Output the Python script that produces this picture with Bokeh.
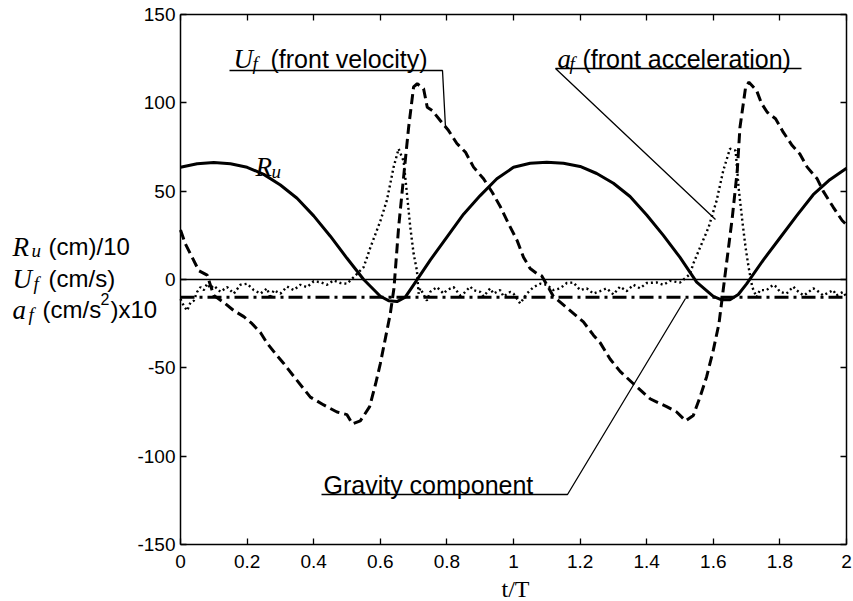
from bokeh.plotting import figure
from bokeh.models import Label, LinearAxis, FixedTicker, CustomJSTickFormatter, Range1d
from bokeh.embed import file_html
from bokeh.resources import INLINE

# ---------------- data ----------------
x_ticks = [0, 0.2, 0.4, 0.6, 0.8, 1, 1.2, 1.4, 1.6, 1.8, 2]
y_ticks = [-150, -100, -50, 0, 50, 100, 150]

# R_u (run-up /10), solid
ru_t = [0.00, 0.05, 0.10, 0.15, 0.20, 0.25, 0.30, 0.35, 0.40, 0.45, 0.50, 0.55, 0.60,
        0.625, 0.65, 0.675, 0.70, 0.75, 0.80, 0.85, 0.90, 0.95,
        1.00, 1.05, 1.10, 1.15, 1.20, 1.25, 1.30, 1.35, 1.40, 1.45, 1.50, 1.55, 1.60,
        1.625, 1.65, 1.675, 1.70, 1.75, 1.80, 1.85, 1.90, 1.95, 2.00]
ru_v = [63.5, 65.5, 66.2, 65.5, 63.5, 59.5, 53.5, 46, 36, 24.5, 12, 0, -9.5,
        -12, -12.5, -10, -3, 11, 24, 37, 47.5, 57,
        63.5, 65.8, 66.3, 65.8, 64, 60, 54.5, 47, 36.5, 25, 12.5, -1.5, -9.5,
        -11.5, -11.5, -8.5, -2.5, 11, 23.5, 36, 48, 56.5, 63]

# U_f (front velocity), dashed
uf_t = [0, 0.015, 0.035, 0.055, 0.08, 0.1, 0.13, 0.16, 0.19, 0.215, 0.24, 0.26, 0.285,
        0.31, 0.345, 0.39, 0.43, 0.47, 0.50, 0.516, 0.54, 0.568, 0.586, 0.60, 0.616,
        0.63, 0.641, 0.655, 0.67, 0.685, 0.70, 0.711, 0.73, 0.741, 0.756, 0.78, 0.805,
        0.83, 0.856, 0.88, 0.91, 0.936, 0.961, 0.985, 1.011, 1.03, 1.05, 1.07, 1.085,
        1.12, 1.16, 1.21, 1.24, 1.261, 1.29, 1.32, 1.36, 1.41, 1.46, 1.49, 1.517, 1.54,
        1.56, 1.58, 1.60, 1.617, 1.627, 1.637, 1.657, 1.672, 1.68, 1.697, 1.707, 1.73,
        1.745, 1.762, 1.787, 1.81, 1.837, 1.86, 1.882, 1.912, 1.93, 1.96, 1.987, 2.0]
uf_v = [28, 20, 12.6, 5, 2.5, -9, -13, -17.6, -21, -25, -30, -36, -42,
        -47.5, -56, -66.6, -71, -75, -76.5, -81.7, -80, -72, -59, -47.7, -32.6,
        -19.4, -5, 29.5, 58, 86, 109, 110.8, 108, 97.5, 95.6, 90, 84.3,
        77, 72, 63.6, 57, 49.4, 41, 31.6, 22, 12.6, 6.2, 3.4, 2,
        -9.6, -16, -24, -31.5, -36, -45, -52, -59, -67.5, -72, -75, -80, -77,
        -66.6, -55, -40, -25, -10, 5, 35, 61.7, 86, 108.8, 111.7, 107,
        99.6, 94.7, 91, 83.4, 75.8, 71, 63.6, 57, 50, 41, 33.4, 31]

# a_f (front acceleration x10), dotted
af_t = [0.00, 0.01, 0.02, 0.03, 0.04, 0.05, 0.06, 0.07, 0.08, 0.09, 0.10, 0.12, 0.14,
        0.16, 0.18, 0.20, 0.22, 0.24, 0.26, 0.27, 0.28, 0.30, 0.32, 0.34, 0.36, 0.38,
        0.40, 0.42, 0.44, 0.46, 0.48, 0.50, 0.52, 0.55, 0.57, 0.60, 0.62, 0.64, 0.655,
        0.67, 0.68, 0.69, 0.70, 0.71, 0.715, 0.72, 0.74, 0.75, 0.77, 0.79, 0.80, 0.82,
        0.84, 0.85, 0.87, 0.88, 0.90, 0.91, 0.93, 0.94, 0.96, 0.97, 0.99, 1.00, 1.02,
        1.04, 1.06, 1.08, 1.10, 1.12, 1.14, 1.16, 1.18, 1.20, 1.22, 1.24, 1.26, 1.28,
        1.30, 1.32, 1.34, 1.36, 1.38, 1.40, 1.43, 1.45, 1.47, 1.50, 1.53, 1.54, 1.56,
        1.586, 1.61, 1.63, 1.65, 1.667, 1.676, 1.687, 1.697, 1.706, 1.717, 1.73, 1.74,
        1.76, 1.78, 1.79, 1.80, 1.82, 1.84, 1.85, 1.87, 1.88, 1.90, 1.91, 1.93, 1.94,
        1.96, 1.97, 1.99, 2.00]
af_v = [-11, -15, -17.6, -13, -12, -7, -4.3, -6, -2.4, -5, -3.4, -7, -4.3,
        -8, -3, -2.4, -6, -8, -5, -10.8, -6, -8, -4, -6, -3, -4.3,
        -1, -1.5, -3, -0.5, -2, -2.4, 1.3, 7, 18, 33, 45, 63.6, 74,
        67, 48.6, 29.6, 14.7, 5, -8, -5, -12, -7, -4.3, -8, -6, -4.3,
        -9, -8, -4, -6, -7, -9.6, -5, -8, -6, -9.6, -7, -8, -13.6,
        -8, -4.3, -2.4, -3, -6, -5, -2, -1.7, -6, -5, -8, -6.6, -5,
        -8.5, -4, -6.6, -3, -5, -2, -1.7, -3, -0.8, -1.7, 3, 9, 18,
        29.6, 44.7, 61.7, 74, 73, 52, 33.4, 18, 7, -4.3, -10, -6,
        -6, -3, -4.3, -7, -8, -4, -6, -9, -8, -5, -6, -9, -8,
        -6, -9, -7, -10]

# gravity component (dash-dot) and zero reference line
grav_t = [0, 2]
grav_v = [-10, -10]
zero_t = [0, 2]
zero_v = [0, 0]

# ---------------- page geometry (pixels of the plot box inside the 853x601 page) ----------------
W, H = 853, 601
BOX_L, BOX_R, BOX_T, BOX_B = 180, 846, 14, 544
XMIN, XMAX = x_ticks[0], x_ticks[-1]
YMIN, YMAX = y_ticks[0], y_ticks[-1]
sx = (BOX_R - BOX_L) / (XMAX - XMIN)
sy = (BOX_B - BOX_T) / (YMAX - YMIN)

# the frame covers the whole page; the axes are pinned to the plot box edges
p = figure(width=W, height=H,
           x_range=Range1d(XMIN - BOX_L / sx, XMAX + (W - BOX_R) / sx),
           y_range=Range1d(YMIN - (H - BOX_B) / sy, YMAX + BOX_T / sy),
           output_backend="svg", toolbar_location=None, min_border=0)
p.xgrid.visible = False
p.ygrid.visible = False
p.outline_line_color = None
p.background_fill_color = "white"
p.border_fill_color = "white"

SANS = "Liberation Sans"
SERIF = "Liberation Serif"

xfmt = CustomJSTickFormatter(code="return (Math.round(tick*10)/10).toString();")
yfmt = CustomJSTickFormatter(code="return Math.round(tick).toString();")

def style_axis(ax, ticks, bounds, loc):
    ax.ticker = FixedTicker(ticks=ticks)
    ax.bounds = bounds
    ax.fixed_location = loc
    ax.major_tick_in = 6
    ax.major_tick_out = 0
    ax.minor_tick_line_color = None
    ax.axis_line_width = 1.5
    ax.axis_line_color = "black"
    ax.major_tick_line_width = 1.3
    ax.major_tick_line_color = "black"
    ax.major_label_text_font = SANS
    ax.major_label_text_font_size = "19px"
    ax.major_label_text_color = "black"

style_axis(p.xaxis[0], x_ticks, (XMIN, XMAX), YMIN)
p.xaxis[0].formatter = xfmt
p.xaxis[0].major_label_standoff = 10
style_axis(p.yaxis[0], y_ticks, (YMIN, YMAX), XMIN)
p.yaxis[0].formatter = yfmt
p.yaxis[0].major_label_standoff = 5

top = LinearAxis()
style_axis(top, x_ticks, (XMIN, XMAX), YMAX)
top.major_label_text_color = None
right = LinearAxis()
style_axis(right, y_ticks, (YMIN, YMAX), XMAX)
right.major_label_text_color = None
p.add_layout(top, "above")
p.add_layout(right, "right")

# ---------------- series ----------------
p.line(zero_t, zero_v, line_width=1.3, color="black")
p.line(grav_t, grav_v, line_width=3, color="black", line_dash="14 5 3 5")
p.line(af_t, af_v, line_width=2.4, color="black", line_dash="2 3")
p.line(uf_t, uf_v, line_width=3, color="black", line_dash="10 5")
p.line(ru_t, ru_v, line_width=3, color="black")

# ---------------- annotations (page pixel -> data helpers) ----------------
def X(px):
    return XMIN + (px - BOX_L) / sx

def Y(py):
    return YMIN + (BOX_B - py) / sy

def lab(px, py, text, font, size, style="normal", align="left"):
    p.add_layout(Label(x=X(px), y=Y(py), text=text, text_font=font,
                       text_font_size=f"{size}px", text_font_style=style,
                       text_align=align, text_baseline="alphabetic", text_color="black"))

def lead(pxs, pys):
    p.line([X(a) for a in pxs], [Y(b) for b in pys], line_width=1.3, color="black")

BIG = 27
SUB = 19
TXT = 25

# y-axis label block
lab(12, 246, "R", SERIF, BIG, "italic")
lab(31, 250, "u", SERIF, SUB, "italic")
lab(48, 246, "(cm)/10", SANS, TXT - 1)
lab(12, 278, "U", SERIF, BIG, "italic")
lab(33, 283, "f", SERIF, SUB, "italic")
lab(48, 278, "(cm/s)", SANS, TXT - 1)
lab(12, 309, "a", SERIF, BIG, "italic")
lab(28, 314, "f", SERIF, SUB, "italic")
lab(42, 309, "(cm/s", SANS, TXT - 1)
lab(100, 298, "2", SANS, 16)
lab(110, 309, ")x10", SANS, TXT - 1)

# x-axis title
lab(515, 588, "t/T", SERIF, 24, align="center")

# R_u curve label
lab(255, 166, "R", SERIF, BIG, "italic")
lab(271, 171, "u", SERIF, SUB, "italic")

# U_f callout
lab(233, 58, "U", SERIF, BIG, "italic")
lab(252, 63, "f", SERIF, SUB, "italic")
lab(270, 58, "(front velocity)", SANS, TXT)
lead([229, 442, 445], [70, 70, 127])

# a_f callout
lab(557, 58, "a", SERIF, BIG, "italic")
lab(569, 63, "f", SERIF, SUB, "italic")
lab(582, 58, "(front acceleration)", SANS, TXT)
lead([801, 555, 715], [68, 68, 219])

# gravity component callout
lab(323, 484, "Gravity component", SANS, TXT)
lead([321, 567, 685], [494, 494, 298])

open("out.html", "w").write(file_html(p, INLINE))
